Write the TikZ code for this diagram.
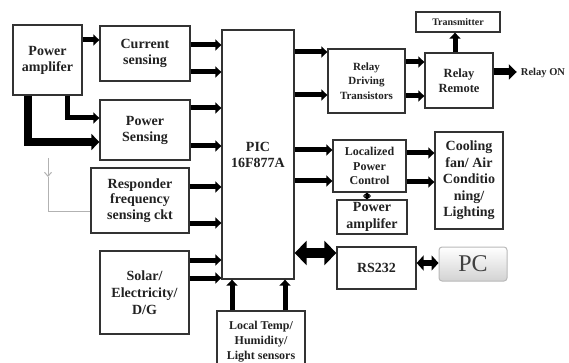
\documentclass[tikz,border=0pt]{standalone}
\usepackage{fontspec}
\setmainfont{Liberation Serif}
\usetikzlibrary{arrows.meta}
\definecolor{box-line}{HTML}{333333}
\definecolor{box-text}{HTML}{222222}

\begin{document}
\begin{tikzpicture}[x=1pt, y=-1pt,
    blk/.style={draw=box-line, line width=1.3pt, fill=white, align=center,
                text=box-text, inner sep=1pt},
    big/.style={font=\bfseries\fontsize{14}{16}\selectfont},
    bus/.style={line width=5pt, -{Triangle[length=6pt, width=11pt]}},
    fatbus/.style={line width=8pt, -{Triangle[length=8pt, width=16pt]}}]
    \useasboundingbox (0,0) rectangle (569,363);
    \clip (0,0) rectangle (569,363);
    % left column
    \node[blk, big, minimum width=69pt, minimum height=70pt] (pamp) at (47.5,60)
          {Power\\amplifer};
    \node[blk, big, minimum width=90pt, minimum height=55pt] (curr) at (145,53.5)
          {Current\\sensing};
    \node[blk, big, minimum width=90pt, minimum height=60pt] (psen) at (145,130)
          {Power\\Sensing};
    \node[blk, font=\bfseries\fontsize{14}{15.5}\selectfont, minimum width=98pt,
          minimum height=65pt] (resp) at (140,200.5)
          {Responder\\frequency\\sensing ckt};
    \node[blk, font=\bfseries\fontsize{14}{17}\selectfont, minimum width=89pt,
          minimum height=83pt] (solar) at (144.5,292.5)
          {Solar/\\Electricity/\\D/G};
    % controller
    \node[blk, big, minimum width=72pt, minimum height=249pt] (pic) at (258,154.5)
          {PIC\\16F877A};
    \node[blk, font=\bfseries\fontsize{12}{15}\selectfont, minimum width=88pt,
          minimum height=61pt] (local) at (261,341.5)
          {Local Temp/\\Humidity/\\Light sensors};
    % right side
    \node[blk, font=\bfseries\fontsize{11}{14.5}\selectfont, minimum width=77pt,
          minimum height=64pt] (rdrv) at (366.5,81)
          {Relay\\Driving\\Transistors};
    \node[blk, font=\bfseries\fontsize{12.5}{15}\selectfont, minimum width=68pt,
          minimum height=55pt] (rrem) at (459,80.5) {Relay\\Remote};
    \node[blk, font=\bfseries\fontsize{10}{12}\selectfont, minimum width=84pt,
          minimum height=20pt] (trans) at (458,22) {Transmitter};
    \node[text=box-text, font=\bfseries\fontsize{10.5}{12}\selectfont, inner sep=1pt]
          (relayon) at (543,73) {Relay ON};
    \node[blk, font=\bfseries\fontsize{12}{14.5}\selectfont, minimum width=73pt,
          minimum height=52pt] (lpc) at (369.5,166)
          {Localized\\Power\\Control};
    \node[blk, font=\bfseries\fontsize{14}{17}\selectfont, minimum width=70pt,
          minimum height=34pt] (pamp2) at (372,217) {Power\\amplifer};
    \node[blk, font=\bfseries\fontsize{14}{16.5}\selectfont, minimum width=68pt,
          minimum height=97pt] (cool) at (469,180.5)
          {Cooling\\fan/ Air\\Conditio\\ning/\\Lighting};
    \node[blk, big, minimum width=79pt, minimum height=42pt] (rs) at (376.5,268)
          {RS232};
    \node[draw=gray!55, line width=1pt, rounded corners=3pt, top color=white,
          bottom color=gray!35, text=black!75, font=\fontsize{24}{24}\selectfont,
          minimum width=68pt, minimum height=34pt] (pc) at (473,264) {PC};
    % antenna input
    \coordinate (ant) at (48,158);
    \coordinate (antend) at (48,177);
    \draw[gray!60, line width=1pt, -{Straight Barb[length=4pt, width=7pt]}]
          (ant) -- (antend);
    \draw[gray!60, line width=1pt] (antend) |- (resp.west |- 0,211);
    % connectors, left side
    \draw[bus] (pamp.east |- 0,40) -- (curr.west |- 0,40);
    \draw[bus] (pamp.south -| 67,0) |- (psen.west |- 0,118);
    \draw[fatbus] (pamp.south -| 28,0) |- (psen.west |- 0,142);
    \foreach \from/\yy in {curr/45, curr/72, psen/108, psen/146,
                           resp/187, resp/223, solar/260, solar/278}
      \draw[bus] (\from.east |- 0,\yy) -- (pic.west |- 0,\yy);
    \foreach \xx in {232, 285}
      \draw[bus] (local.north -| \xx,0) -- (pic.south -| \xx,0);
    % connectors, right side
    \draw[bus] (pic.east |- 0,52) -- (rdrv.west |- 0,52);
    \draw[bus] (pic.east |- 0,95) -- (rdrv.west |- 0,95);
    \draw[bus] (rdrv.east |- 0,62) -- (rrem.west |- 0,62);
    \draw[bus] (rdrv.east |- 0,96) -- (rrem.west |- 0,96);
    \draw[bus] (rrem.north -| 455,0) -- (trans.south -| 455,0);
    \draw[line width=7pt, -{Triangle[length=8pt, width=15pt]}]
          (rrem.east |- 0,72) -- ([xshift=-3pt]relayon.west |- 0,72);
    \draw[bus] (pic.east |- 0,150) -- (lpc.west |- 0,150);
    \draw[bus] (pic.east |- 0,181) -- (lpc.west |- 0,181);
    \draw[bus] (lpc.east |- 0,153) -- (cool.west |- 0,153);
    \draw[bus] (lpc.east |- 0,182) -- (cool.west |- 0,182);
    \draw[line width=3pt, {Triangle[length=3pt, width=8pt]}-{Triangle[length=3pt, width=8pt]}]
          (lpc.south -| 367,0) -- (pamp2.north -| 367,0);
    \draw[line width=10pt, {Triangle[length=12pt, width=24pt]}-{Triangle[length=12pt, width=24pt]}]
          (pic.east |- 0,253) -- (rs.west |- 0,253);
    \draw[line width=6pt, {Triangle[length=7pt, width=15pt]}-{Triangle[length=7pt, width=15pt]}]
          (rs.east |- 0,263) -- (pc.west |- 0,263);
\end{tikzpicture}
\end{document}
